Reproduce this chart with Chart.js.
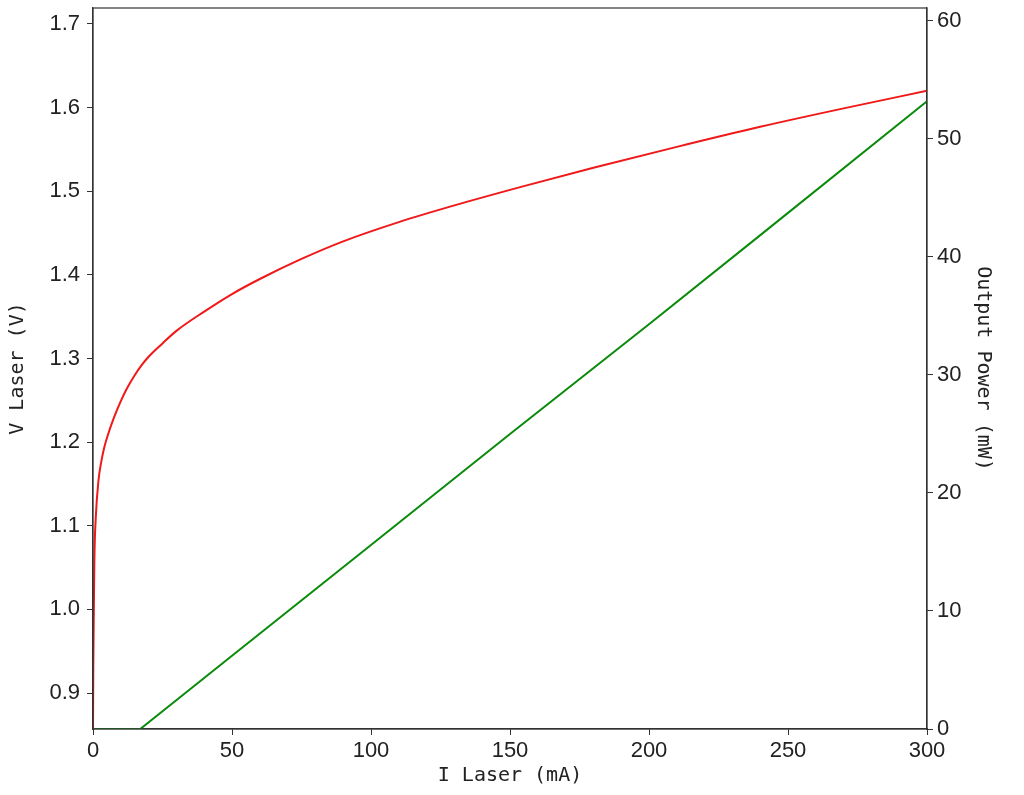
<!DOCTYPE html>
<html>
<head>
<meta charset="utf-8">
<script src="https://cdn.jsdelivr.net/npm/chart.js@4"></script>
<style>
  body { margin: 0; background: #fff; }
  #wrap { width: 1024px; height: 795px; }
</style>
</head>
<body>
<div id="wrap"><canvas id="mycanvas"></canvas></div>
<script>
// voltage curve
var vCurrent = [0, 0.1, 0.3, 0.5, 1, 2, 3, 4, 5.5, 7.5, 10, 12, 15, 17.5, 20, 25, 30, 40, 50, 60, 75, 90, 110, 130, 155, 180, 210, 240, 270, 300];
var vLaser   = [0.857, 0.93, 1.0, 1.06, 1.11, 1.155, 1.177, 1.193, 1.210, 1.229, 1.249, 1.263, 1.280, 1.292, 1.302, 1.318, 1.333, 1.356, 1.377, 1.395, 1.419, 1.440, 1.463, 1.483, 1.506, 1.528, 1.553, 1.577, 1.599, 1.620];

// output power
var pCurrent = [0, 17, 50, 100, 150, 200, 238.7, 300];
var pPower   = [0, 0, 6.2, 15.6, 25.0, 34.3, 41.6, 53.2];

var xTicks = [0, 50, 100, 150, 200, 250, 300];

function toPoints(xs, ys) {
    var pts = [];
    for (var i in xs) {
        pts.push({x: xs[i], y: ys[i]});
    }
    return pts;
}

var tickFont = {family: "'Liberation Sans', Arial, sans-serif", size: 22};
var titleFont = {family: "'DejaVu Sans Mono', monospace", size: 20};
var axisColor = "#333";

// box round the plot area
var frame = {
    id: 'frame',
    afterDraw: function(chart) {
        var a = chart.chartArea;
        var c = chart.ctx;
        c.save();
        c.strokeStyle = axisColor;
        c.lineWidth = 1.2;
        c.strokeRect(a.left, a.top, a.right - a.left, a.bottom - a.top);
        c.restore();
    }
};

function fitY(w) {
    return function(s) {
        s.width = w;
        s.paddingTop = 8;
        s.paddingBottom = 0;
    };
}

var chartdata = {
    datasets: [
        {
            label: "V Laser",
            data: toPoints(vCurrent, vLaser),
            borderColor: "#f01818",
            borderWidth: 2,
            pointRadius: 0,
            cubicInterpolationMode: 'monotone',
            fill: false,
            yAxisID: 'y'
        },
        {
            label: "Output Power",
            data: toPoints(pCurrent, pPower),
            borderColor: "#0a8a0a",
            borderWidth: 2,
            pointRadius: 0,
            tension: 0,
            fill: false,
            yAxisID: 'y1'
        }
    ]
};

var ctx = document.getElementById("mycanvas");

var LineGraph = new Chart(ctx, {
    type: 'line',
    data: chartdata,
    plugins: [frame],
    options: {
        responsive: true,
        maintainAspectRatio: false,
        animation: false,
        layout: {padding: 0},
        plugins: {legend: {display: false}, tooltip: {enabled: false}},
        scales: {
            x: {
                type: 'linear',
                min: 0,
                max: 300,
                afterBuildTicks: function(s) { s.ticks = xTicks.map(function(v) { return {value: v}; }); },
                afterFit: function(s) { s.height = 66; },
                ticks: {font: tickFont, color: "#222", padding: 3, maxRotation: 0},
                grid: {drawOnChartArea: false, tickLength: 6, color: axisColor},
                border: {color: axisColor, width: 1.2},
                title: {display: true, text: "I Laser (mA)", font: titleFont, color: "#222", padding: {top: 0, bottom: 7}}
            },
            y: {
                position: 'left',
                min: 0.857,
                max: 1.719,
                afterFit: fitY(93),
                ticks: {stepSize: 0.1, includeBounds: false, font: tickFont, color: "#222", padding: 7,
                    callback: function(v) { return v.toFixed(1); }},
                grid: {drawOnChartArea: false, tickLength: 6, color: axisColor},
                border: {color: axisColor, width: 1.2},
                title: {display: true, text: "V Laser (V)", font: titleFont, color: "#222", padding: {top: 6, bottom: 0}}
            },
            y1: {
                position: 'right',
                min: 0,
                max: 61.1,
                afterFit: fitY(97),
                ticks: {stepSize: 10, includeBounds: false, font: tickFont, color: "#222", padding: 4},
                grid: {drawOnChartArea: false, tickLength: 6, color: axisColor},
                border: {color: axisColor, width: 1.2},
                title: {display: true, text: "Output Power (mW)", font: titleFont, color: "#222", padding: {top: 29, bottom: 0}}
            }
        }
    }
});
</script>
</body>
</html>
